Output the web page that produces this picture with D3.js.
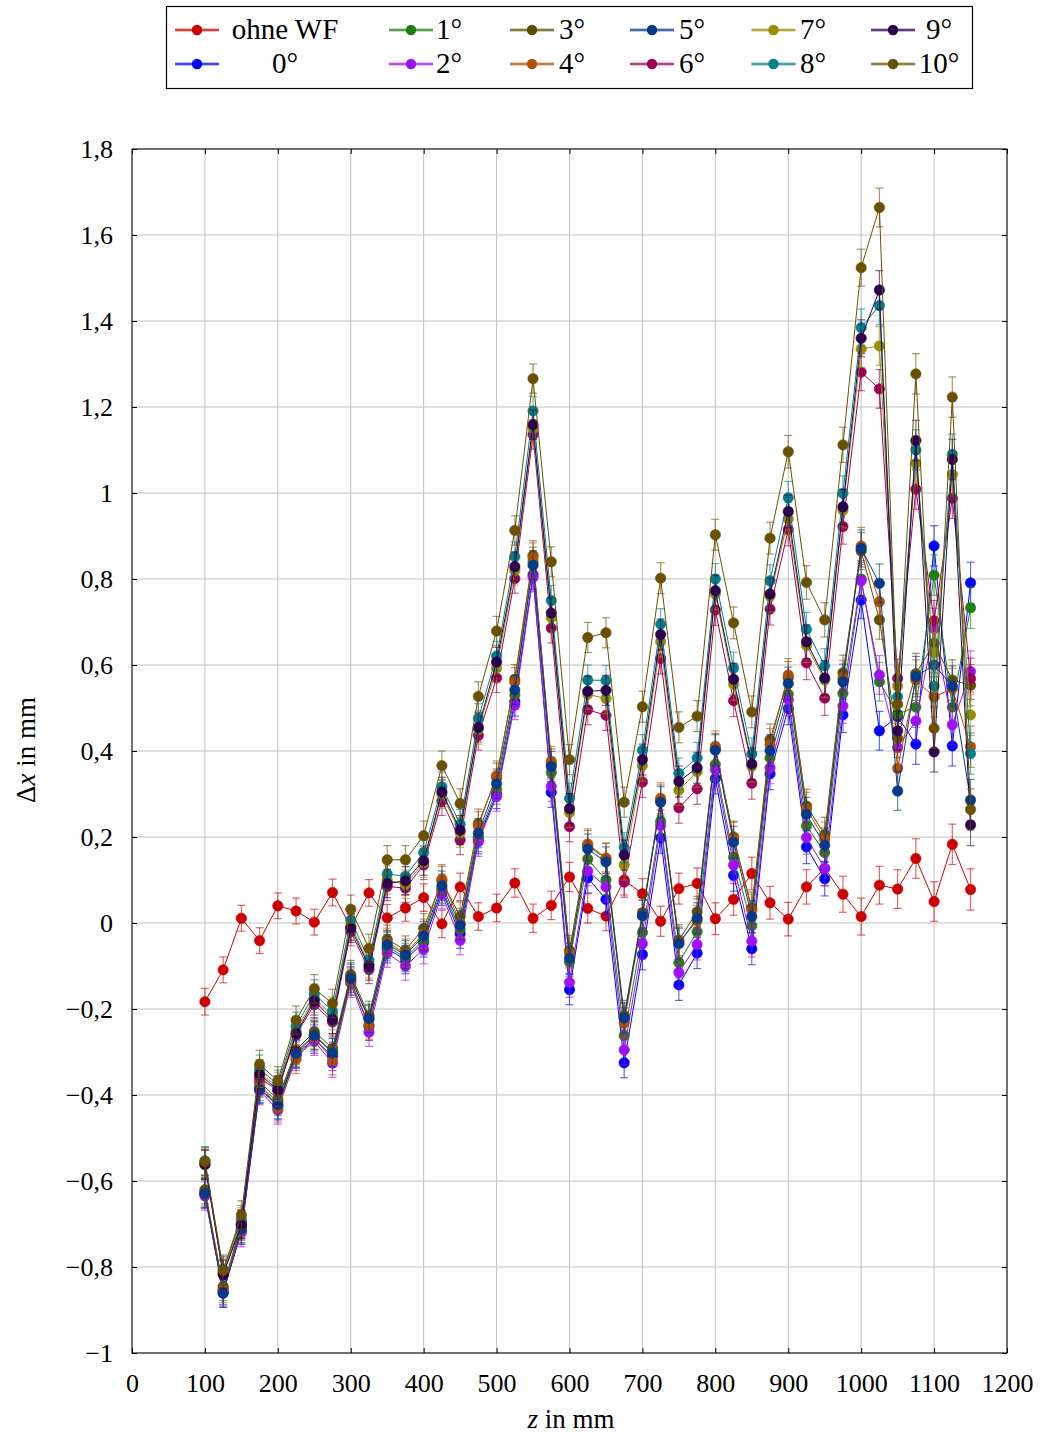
<!DOCTYPE html>
<html>
<head>
<meta charset="utf-8">
<script src="https://cdn.jsdelivr.net/npm/d3@7"></script>
<style>
  body { margin: 0; background: #fff; }
  text { font-family: "Liberation Serif", "Times New Roman", serif; fill: #000; }
</style>
</head>
<body>
<svg id="chart" width="1044" height="1434"></svg>
<script>
// Measurement positions z (mm)
const zValues = [100,125,150,175,200,225,250,275,300,325,350,375,400,425,450,475,500,525,550,575,600,625,650,675,700,725,750,775,800,825,850,875,900,925,950,975,1000,1025,1050,1075,1100,1125,1150];

// Deviation Δx (mm) per configuration
const ohneWF = [-0.183,-0.109,0.011,-0.041,0.040,0.028,0.002,0.071,-0.010,0.070,0.012,0.035,0.059,-0.002,0.084,0.015,0.035,0.093,0.011,0.041,0.107,0.034,0.016,0.100,0.068,0.004,0.080,0.092,0.010,0.055,0.115,0.047,0.009,0.084,0.127,0.067,0.015,0.088,0.079,0.150,0.050,0.183,0.078];
const deg0 = [-0.630,-0.860,-0.715,-0.385,-0.425,-0.305,-0.270,-0.310,-0.135,-0.240,-0.060,-0.085,-0.045,0.075,-0.025,0.195,0.300,0.515,0.810,0.304,-0.155,0.105,0.055,-0.325,-0.073,0.198,-0.144,-0.070,0.336,0.111,-0.060,0.347,0.499,0.177,0.103,0.484,0.751,0.447,0.480,0.416,0.877,0.412,0.791];
const deg1 = [-0.625,-0.850,-0.705,-0.380,-0.415,-0.300,-0.260,-0.300,-0.125,-0.225,-0.055,-0.080,-0.040,0.080,-0.015,0.200,0.310,0.530,0.840,0.350,-0.090,0.149,0.100,-0.262,-0.022,0.236,-0.092,-0.020,0.369,0.153,-0.006,0.384,0.532,0.226,0.164,0.534,0.800,0.561,0.486,0.502,0.809,0.502,0.733];
const deg2 = [-0.635,-0.855,-0.720,-0.390,-0.435,-0.310,-0.275,-0.326,-0.140,-0.254,-0.070,-0.100,-0.061,0.067,-0.040,0.189,0.294,0.507,0.804,0.318,-0.138,0.121,0.084,-0.295,-0.048,0.227,-0.115,-0.050,0.357,0.135,-0.042,0.361,0.520,0.199,0.127,0.505,0.796,0.577,0.408,0.470,0.685,0.461,0.585];
const deg3 = [-0.620,-0.845,-0.700,-0.370,-0.410,-0.295,-0.253,-0.291,-0.120,-0.215,-0.038,-0.063,-0.012,0.098,0.015,0.231,0.338,0.567,0.855,0.370,-0.064,0.180,0.150,-0.215,0.024,0.285,-0.040,0.026,0.405,0.200,0.035,0.426,0.570,0.272,0.206,0.582,0.865,0.705,0.430,0.580,0.650,0.565,0.553];
const deg4 = [-0.630,-0.855,-0.710,-0.373,-0.430,-0.317,-0.265,-0.320,-0.135,-0.237,-0.045,-0.070,-0.025,0.102,0.000,0.225,0.343,0.560,0.850,0.376,-0.070,0.184,0.151,-0.232,0.017,0.290,-0.045,0.005,0.411,0.197,0.030,0.415,0.577,0.265,0.195,0.570,0.877,0.747,0.360,0.565,0.526,0.545,0.410];
const deg5 = [-0.629,-0.861,-0.712,-0.387,-0.422,-0.303,-0.262,-0.302,-0.129,-0.222,-0.050,-0.074,-0.030,0.087,-0.005,0.209,0.324,0.542,0.832,0.364,-0.082,0.172,0.142,-0.221,0.017,0.281,-0.048,0.011,0.402,0.188,0.015,0.401,0.557,0.253,0.181,0.561,0.871,0.790,0.307,0.573,0.600,0.551,0.286];
const deg6 = [-0.560,-0.815,-0.700,-0.360,-0.390,-0.260,-0.190,-0.230,-0.020,-0.108,0.085,0.081,0.135,0.284,0.193,0.436,0.570,0.801,1.136,0.686,0.224,0.496,0.483,0.095,0.328,0.615,0.268,0.312,0.728,0.517,0.325,0.730,0.915,0.605,0.523,0.922,1.281,1.242,0.569,1.009,0.703,0.988,0.568];
const deg7 = [-0.558,-0.812,-0.695,-0.350,-0.380,-0.250,-0.175,-0.215,-0.005,-0.095,0.100,0.090,0.140,0.300,0.210,0.450,0.593,0.820,1.150,0.710,0.257,0.532,0.522,0.135,0.366,0.654,0.309,0.352,0.765,0.555,0.365,0.760,0.940,0.645,0.565,0.960,1.335,1.342,0.551,1.069,0.629,1.043,0.484];
const deg8 = [-0.553,-0.805,-0.690,-0.340,-0.375,-0.240,-0.165,-0.205,0.007,-0.086,0.114,0.109,0.164,0.317,0.230,0.476,0.621,0.852,1.191,0.750,0.290,0.565,0.564,0.175,0.402,0.695,0.348,0.384,0.800,0.593,0.393,0.796,0.989,0.683,0.598,0.999,1.385,1.436,0.526,1.100,0.551,1.090,0.394];
const deg9 = [-0.562,-0.818,-0.702,-0.352,-0.388,-0.257,-0.181,-0.224,-0.012,-0.100,0.092,0.098,0.145,0.305,0.216,0.455,0.607,0.829,1.159,0.721,0.266,0.539,0.541,0.158,0.380,0.671,0.329,0.361,0.773,0.567,0.370,0.765,0.957,0.654,0.570,0.968,1.360,1.472,0.447,1.122,0.398,1.078,0.228];
const deg10 = [-0.555,-0.808,-0.679,-0.329,-0.367,-0.226,-0.153,-0.187,0.032,-0.059,0.147,0.147,0.203,0.366,0.278,0.527,0.679,0.913,1.266,0.840,0.380,0.664,0.675,0.281,0.503,0.802,0.455,0.481,0.903,0.698,0.491,0.895,1.096,0.792,0.705,1.112,1.524,1.664,0.509,1.277,0.453,1.223,0.264];

// Half widths of the error bars (mm)
const errWF = [0.031,0.030,0.030,0.030,0.030,0.030,0.030,0.031,0.031,0.031,0.031,0.031,0.032,0.032,0.032,0.032,0.032,0.033,0.033,0.033,0.034,0.034,0.034,0.035,0.035,0.035,0.036,0.036,0.037,0.037,0.038,0.038,0.039,0.040,0.041,0.042,0.043,0.044,0.045,0.046,0.046,0.047,0.048];
const errAngles = [0.033,0.033,0.033,0.033,0.033,0.033,0.033,0.033,0.033,0.033,0.033,0.033,0.034,0.034,0.034,0.034,0.034,0.034,0.034,0.035,0.035,0.035,0.035,0.035,0.036,0.036,0.036,0.036,0.036,0.037,0.037,0.037,0.038,0.039,0.040,0.041,0.043,0.045,0.045,0.047,0.047,0.047,0.048];

const seriesNames = ["ohne WF","0°","1°","2°","3°","4°","5°","6°","7°","8°","9°","10°"];
const seriesValues = [ohneWF,deg0,deg1,deg2,deg3,deg4,deg5,deg6,deg7,deg8,deg9,deg10];
const seriesErrors = [errWF,errAngles,errAngles,errAngles,errAngles,errAngles,errAngles,errAngles,errAngles,errAngles,errAngles,errAngles];
const seriesColors = ["#cc0000","#0000ff","#1f8010","#a010f5","#5a4f00","#b34f00","#063a88","#9c0058","#9a8c00","#00808a","#2c004f","#6a5000"];

const xTicks = [0,100,200,300,400,500,600,700,800,900,1000,1100,1200];
const yTicks = [-1,-0.8,-0.6,-0.4,-0.2,0,0.2,0.4,0.6,0.8,1,1.2,1.4,1.6,1.8];

const svg = d3.select("#chart");
svg.append("rect").attr("width",1044).attr("height",1434).attr("fill","#fff");

const x = d3.scaleLinear().domain([0,1200]).range([132,1007]);
const y = d3.scaleLinear().domain([-1,1.8]).range([1353,149]);

// grid
const grid = svg.append("g").attr("stroke","#c2c2c2").attr("stroke-width",1);
grid.selectAll("line.vx").data(xTicks).join("line").attr("class","vx")
  .attr("x1",d=>x(d)).attr("x2",d=>x(d)).attr("y1",y(1.8)).attr("y2",y(-1));
grid.selectAll("line.hy").data(yTicks).join("line").attr("class","hy")
  .attr("x1",x(0)).attr("x2",x(1200)).attr("y1",d=>y(d)).attr("y2",d=>y(d));

// German number format with a proper minus sign
const fmtY = d => d === 0 ? "0" : (d < 0 ? "\u2212" : "") + (+Math.abs(d).toFixed(1)).toString().replace(".", ",");

function styleAxis(g) {
  g.select(".domain").remove();
  g.selectAll(".tick line").attr("stroke","#000");
  g.selectAll(".tick text").attr("font-size",26).attr("font-family","'Liberation Serif', serif").attr("fill","#000");
}

svg.append("g").attr("transform",`translate(0,${y(-1)})`)
  .call(d3.axisBottom(x).tickValues(xTicks).tickSize(-5).tickPadding(21).tickFormat(d=>d))
  .call(styleAxis);
svg.append("g").attr("transform",`translate(0,${y(1.8)})`)
  .call(d3.axisTop(x).tickValues(xTicks).tickSize(-5).tickFormat(""))
  .call(styleAxis);
svg.append("g").attr("transform",`translate(${x(0)},0)`)
  .call(d3.axisLeft(y).tickValues(yTicks).tickSize(-5).tickPadding(19).tickFormat(fmtY))
  .call(styleAxis);
svg.append("g").attr("transform",`translate(${x(1200)},0)`)
  .call(d3.axisRight(y).tickValues(yTicks).tickSize(-5).tickFormat(""))
  .call(styleAxis);

// series
const line = d3.line().x((d,i)=>x(zValues[i])).y(d=>y(d));
const capHalf = 4;
seriesValues.forEach((vals, s) => {
  const col = seriesColors[s];
  const errs = seriesErrors[s];
  const g = svg.append("g");
  g.append("path").datum(vals).attr("d", line).attr("fill","none").attr("stroke",col).attr("stroke-width",1);
  const eb = g.append("g").attr("stroke",col).attr("stroke-opacity",0.6).attr("stroke-width",1.2);
  vals.forEach((v,i) => {
    const cx = x(zValues[i]);
    const y1 = y(v - errs[i]), y2 = y(v + errs[i]);
    eb.append("line").attr("x1",cx).attr("x2",cx).attr("y1",y1).attr("y2",y2);
    eb.append("line").attr("x1",cx-capHalf).attr("x2",cx+capHalf).attr("y1",y1).attr("y2",y1);
    eb.append("line").attr("x1",cx-capHalf).attr("x2",cx+capHalf).attr("y1",y2).attr("y2",y2);
  });
  g.selectAll("circle").data(vals).join("circle")
    .attr("cx",(d,i)=>x(zValues[i])).attr("cy",d=>y(d)).attr("r",5.2)
    .attr("fill",col).attr("stroke",col).attr("stroke-width",0.6);
});

// frame
svg.append("rect").attr("x",x(0)).attr("y",y(1.8)).attr("width",x(1200)-x(0)).attr("height",y(-1)-y(1.8))
  .attr("fill","none").attr("stroke","#000").attr("stroke-width",1);

// axis titles
svg.append("text").attr("x",571).attr("y",1428).attr("text-anchor","middle").attr("font-size",27)
  .call(t => { t.append("tspan").attr("font-style","italic").text("z"); t.append("tspan").text(" in mm"); });
svg.append("text").attr("transform","translate(35,750) rotate(-90)").attr("text-anchor","middle").attr("font-size",27)
  .call(t => { t.append("tspan").text("Δ"); t.append("tspan").attr("font-style","italic").text("x"); t.append("tspan").text(" in mm"); });

// legend (two rows, filled column by column)
const legendMarkerX = [197,411,532,652,773.5,893];
const legendTextX = [285,449,572,692,813,939];
const legendRowY = [30,64];
const lg = svg.append("g");
lg.append("rect").attr("x",166.5).attr("y",6.5).attr("width",806).attr("height",82)
  .attr("fill","#fff").attr("stroke","#000").attr("stroke-width",1.2);
seriesNames.forEach((name, i) => {
  const c = Math.floor(i/2), r = i % 2;
  const mx = legendMarkerX[c], my = legendRowY[r];
  const col = seriesColors[i];
  lg.append("line").attr("x1",mx-22).attr("x2",mx+22).attr("y1",my).attr("y2",my)
    .attr("stroke",col).attr("stroke-opacity",0.5).attr("stroke-width",3);
  lg.append("line").attr("x1",mx-22).attr("x2",mx+22).attr("y1",my).attr("y2",my)
    .attr("stroke",col).attr("stroke-width",1);
  lg.append("circle").attr("cx",mx).attr("cy",my).attr("r",5.2).attr("fill",col);
  lg.append("text").attr("x",legendTextX[c]).attr("y",my+9).attr("text-anchor","middle")
    .attr("font-size",29).text(name);
});
</script>
</body>
</html>
